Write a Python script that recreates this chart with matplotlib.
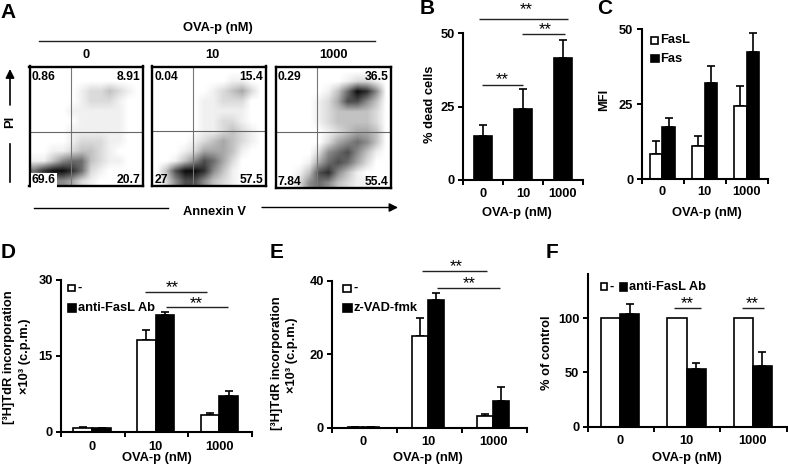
#!/usr/bin/env python3
import numpy as np
import matplotlib
matplotlib.use("Agg")
import matplotlib.pyplot as plt
from matplotlib.patches import Rectangle

plt.rcParams['font.family'] = ['Liberation Sans', 'DejaVu Sans']
plt.rcParams['font.weight'] = 'bold'
plt.rcParams['font.size'] = 9.3

W, H = 788, 466
DOSES = ['0', '10', '1000']

# panel A: dot density, 12 x 12 cells, top row first
DENSITY_0 = ['000000000000', '000000000000', '000001223210', '000001222100',
             '000011111100', '000001111100', '000011111100', '000012221100',
             '001123321000', '113566321100', '689986210000', '335542100000']
DENSITY_10 = ['000000000000', '000000001100', '000000123420', '000001122200',
              '000001111100', '000001122100', '000001123210', '000012343210',
              '000124443100', '001357642000', '037998531000', '025775321000']
DENSITY_1000 = ['000000000000', '000000012210', '000001369850', '000012477530',
                '000012333320', '000012333320', '000001234430', '000002456530',
                '000025675310', '000146764200', '001378531000', '002565321100']
QUADRANTS_0 = ['0.86', '8.91', '69.6', '20.7']
QUADRANTS_10 = ['0.04', '15.4', '27', '57.5']
QUADRANTS_1000 = ['0.29', '36.5', '7.84', '55.4']

# panel B
B_DEAD = [14.9, 24.2, 41.5]
B_DEAD_TOP = [18.7, 30.8, 47.7]

# panel C
C_FASL = [8.2, 11.1, 24.5]
C_FASL_TOP = [12.8, 14.5, 31.2]
C_FAS = [17.3, 32.0, 42.4]
C_FAS_TOP = [20.3, 37.9, 48.8]

# panel D
D_CTRL = [0.8, 18.1, 3.4]
D_CTRL_TOP = [0.85, 20.2, 3.7]
D_AB = [0.65, 23.0, 7.1]
D_AB_TOP = [0.7, 23.7, 8.0]

# panel E
E_CTRL = [0.35, 25.0, 3.3]
E_CTRL_TOP = [0.4, 30.0, 3.7]
E_ZVAD = [0.15, 34.8, 7.4]
E_ZVAD_TOP = [0.2, 36.6, 11.2]

# panel F
F_CTRL = [100, 100, 100]
F_AB = [103.4, 53, 56]
F_AB_TOP = [113, 58.6, 69]

fig = plt.figure(figsize=(W / 100, H / 100), dpi=100)


def px_axes(left, top, right, bottom):
    return fig.add_axes([left / W, 1 - bottom / H, (right - left) / W, (bottom - top) / H])


# overlay in pixel coordinates for labels, brackets and arrows
ov = fig.add_axes([0, 0, 1, 1], zorder=10)
ov.set_xlim(0, W)
ov.set_ylim(H, 0)
ov.axis('off')
ov.patch.set_alpha(0)


def label(x, y, s, size=9.3, rotation=0):
    ov.text(x, y, s, ha='center', va='center', fontsize=size, rotation=rotation)


def bracket(x0, x1, y, sx, sy=None):
    ov.plot([x0, x1], [y, y], color='#222222', lw=1.0, solid_capstyle='butt')
    ov.text(sx, (y - 1) if sy is None else sy + 1, '**', ha='center', va='center', fontsize=12, fontweight='normal')


def flow(left, top, right, bottom, grid, quads, vx, hy, clear_corner=False):
    ax = px_axes(left, top, right, bottom)
    dens = np.array([[int(c) for c in row] for row in grid], dtype=float)
    ax.imshow((dens / 9) ** 1.25, cmap='gray_r', vmin=0, vmax=1.05, extent=[left, right, bottom, top],
              interpolation='bilinear', aspect='auto')
    ax.axvline(vx, color='#777777', lw=0.8)
    ax.axhline(hy, color='#666666', lw=0.8)
    ax.set_xticks([])
    ax.set_yticks([])
    for s in ax.spines.values():
        s.set_linewidth(1.7)
    ax.text(left + 2.5, top + 10, quads[0], va='center', ha='left', fontsize=8.7)
    ax.text(right - 2, top + 10, quads[1], va='center', ha='right', fontsize=8.7)
    box = dict(fc='white', ec='none', pad=0.8) if clear_corner else None
    ax.text(left + 2.5, bottom - 6, quads[2], va='center', ha='left', fontsize=8.7, bbox=box)
    ax.text(right - 2, bottom - 6, quads[3], va='center', ha='right', fontsize=8.7)


def bars(box, ymax, yticks, series, width, centre=0.49, pad_x=6):
    ax = px_axes(*box)
    xs = np.arange(3) + centre
    n = len(series)
    for k, (vals, tops, fc) in enumerate(series):
        off = (k - (n - 1) / 2) * width
        ax.bar(xs + off, vals, width, color=fc, edgecolor='black', lw=1.2, zorder=2)
        if tops is not None:
            err = np.array(tops) - np.array(vals)
            ax.errorbar(xs + off, vals, yerr=[np.zeros(3), err], fmt='none', ecolor='black',
                        elinewidth=1.2, capsize=3, capthick=1.2, zorder=1)
    ax.set_xlim(0, 3)
    ax.set_ylim(0, ymax)
    ax.set_yticks(yticks)
    ax.set_xticks([0, 1, 2, 3])
    ax.set_xticklabels([])
    ax.set_xticks(xs, DOSES, minor=True)
    ax.tick_params(axis='x', which='minor', length=0, pad=pad_x, labelsize=9.3)
    ax.tick_params(axis='both', which='major', width=1.4, length=3.5, labelsize=9.3, pad=2.5)
    ax.spines['top'].set_visible(False)
    ax.spines['right'].set_visible(False)
    ax.spines['left'].set_linewidth(1.5)
    ax.spines['bottom'].set_linewidth(1.5)
    ax.patch.set_alpha(0)
    return ax


def key(x0, y0, x1, y1, fc):
    ov.add_patch(Rectangle((x0, y0), x1 - x0, y1 - y0, fc=fc, ec='black', lw=1.2))


# panel A
flow(29.5, 66.5, 142.5, 186.5, DENSITY_0, QUADRANTS_0, 70.7, 131.7, clear_corner=True)
flow(152, 66.5, 265.5, 186.5, DENSITY_10, QUADRANTS_10, 193, 131)
flow(275.5, 66.5, 390.5, 187.5, DENSITY_1000, QUADRANTS_1000, 317, 132.3)
label(218, 28, 'OVA-p (nM)')
ov.plot([39, 375], [41, 41], color='#222222', lw=1.0)
for x, s in zip([86, 212, 334], DOSES):
    label(x, 55, s)
label(10, 122, 'PI', rotation=90)
ov.plot([10, 10], [144, 182], color='black', lw=1.2)
ov.annotate('', xy=(10, 69), xytext=(10, 105),
            arrowprops=dict(arrowstyle='-|>', color='black', lw=1.2, shrinkA=0, shrinkB=0, mutation_scale=13))
ov.plot([34, 168], [207.5, 207.5], color='black', lw=1.0)
label(215, 212, 'Annexin V')
ov.annotate('', xy=(398, 207.5), xytext=(262, 207.5),
            arrowprops=dict(arrowstyle='-|>', color='black', lw=1.0, shrinkA=0, shrinkB=0, mutation_scale=13))

# panel B
bars((463.3, 33, 583.3, 180), 50, [0, 25, 50], [(B_DEAD, B_DEAD_TOP, 'black')], 0.44)
label(430, 104, '% dead cells', rotation=90)
label(517, 213, 'OVA-p (nM)')
bracket(479, 568, 19.3, 526, 9)
bracket(522.3, 565, 34.3, 545.5, 29)
bracket(481.7, 523.3, 84.7, 502, 78.5)

# panel C
bars((641.7, 29.3, 768.3, 179), 50, [0, 25, 50],
     [(C_FASL, C_FASL_TOP, 'white'), (C_FAS, C_FAS_TOP, 'black')], 0.3, pad_x=5)
label(604, 100, 'MFI', rotation=90)
label(707, 213, 'OVA-p (nM)')
key(650.7, 36.5, 657.7, 43.5, 'white')
key(650.7, 55, 658.7, 62, 'black')
ov.text(660, 40, 'FasL', va='center', ha='left')
ov.text(660, 59, 'Fas', va='center', ha='left')

# panel D
bars((61, 280, 251.7, 431.7), 30, [0, 15, 30],
     [(D_CTRL, D_CTRL_TOP, 'white'), (D_AB, D_AB_TOP, 'black')], 0.295, pad_x=7)
label(9.5, 357, '[³H]TdR incorporation', rotation=90)
label(25, 356, '×10³ (c.p.m.)', rotation=90)
label(157, 458, 'OVA-p (nM)')
key(68, 284.5, 75, 291, 'white')
key(68, 304, 76, 312, 'black')
ov.text(77.5, 287.5, '-', va='center', ha='left')
ov.text(78, 308, 'anti-FasL Ab', va='center', ha='left')
bracket(145, 207, 292.3, 172.7, 286.7)
bracket(166, 228, 307.3, 196.7, 302.5)

# panel E
bars((332.3, 280.7, 526.7, 428), 40, [0, 20, 40],
     [(E_CTRL, E_CTRL_TOP, 'white'), (E_ZVAD, E_ZVAD_TOP, 'black')], 0.245, centre=0.48, pad_x=6)
label(277.5, 363, '[³H]TdR incorporation', rotation=90)
label(292.5, 355, '×10³ (c.p.m.)', rotation=90)
label(428, 458, 'OVA-p (nM)')
key(343.3, 284.5, 350.7, 291.7, 'white')
key(343.3, 304, 351.7, 312, 'black')
ov.text(353.5, 288, '-', va='center', ha='left')
ov.text(353.5, 307.7, 'z-VAD-fmk', va='center', ha='left')
bracket(422.3, 486.7, 271, 456, 265.7)
bracket(436.7, 500, 287.7, 469, 282.7)

# panel F
bars((587.7, 274, 786.7, 426.7), 140.5, [0, 50, 100],
     [(F_CTRL, None, 'white'), (F_AB, F_AB_TOP, 'black')], 0.29, pad_x=6)
label(547, 353, '% of control', rotation=90)
label(687, 458, 'OVA-p (nM)')
key(600.7, 283, 607.3, 290, 'white')
key(620, 283, 626.7, 290.5, 'black')
ov.text(609.5, 286.7, '-', va='center', ha='left')
ov.text(628.7, 286.7, 'anti-FasL Ab', va='center', ha='left')
bracket(674, 700.7, 308.3, 687.7, 302.7)
bracket(741.7, 764.3, 308.3, 752.3, 302.7)

# panel letters
for x, y, s in [(8, 13, 'A'), (427, 9, 'B'), (605, 9, 'C'), (8, 252, 'D'), (277, 252, 'E'), (552, 252, 'F')]:
    label(x, y, s, size=15)

fig.savefig('out.png', dpi=100)
